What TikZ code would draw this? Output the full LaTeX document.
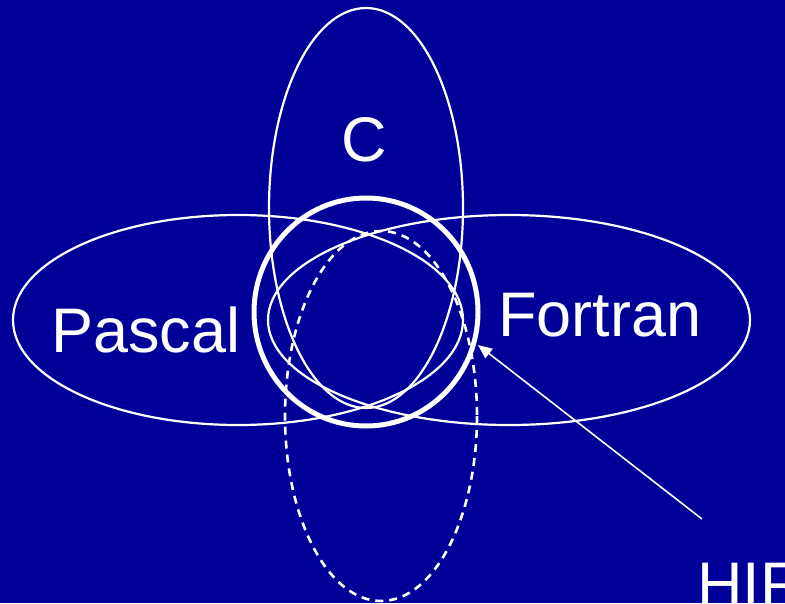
\documentclass[tikz,border=0pt]{standalone}
\usepackage{fontspec}
\setmainfont{Liberation Sans}
\usetikzlibrary{arrows.meta}
\definecolor{bgblue}{HTML}{000099}
\begin{document}
\begin{tikzpicture}[x=1pt,y=-1pt,
  thinell/.style={draw=white,line width=2.2pt},
  boldcirc/.style={draw=white,line width=5pt},
  dashell/.style={draw=white,line width=2.6pt,dash pattern=on 8pt off 6pt},
  lbl/.style={text=white,inner sep=0pt,font=\fontsize{63}{63}\selectfont},
  pointer/.style={draw=white,line width=1.6pt,-{Triangle[length=14pt,width=12pt]}}]
\fill[bgblue] (0,0) rectangle (785,603);
\useasboundingbox (0,0) rectangle (785,603);
% C ellipse
\draw[thinell] (366,208) ellipse [x radius=97,y radius=200];
% Pascal ellipse
\draw[thinell] (238,320) ellipse [x radius=225,y radius=105];
% Fortran ellipse
\draw[thinell] (509,320) ellipse [x radius=241,y radius=105];
% dashed ellipse
\draw[dashell] (381,416) ellipse [x radius=96,y radius=185];
% bold circle
\draw[boldcirc] (366,312) ellipse [x radius=112,y radius=114];
% labels
\node[lbl,anchor=base] (c) at (364,161) {C};
\node[lbl,anchor=base west] (pascal) at (51,352) {Pascal};
\node[lbl,anchor=base west] (fortran) at (498,336) {Fortran};
\node[lbl,anchor=base west] (hir) at (697,606) {HIR};
\coordinate (hirtail) at (702,519);
\coordinate (hirtip) at (478,345);
\draw[pointer] (hirtail) -- (hirtip);
\end{tikzpicture}
\end{document}
